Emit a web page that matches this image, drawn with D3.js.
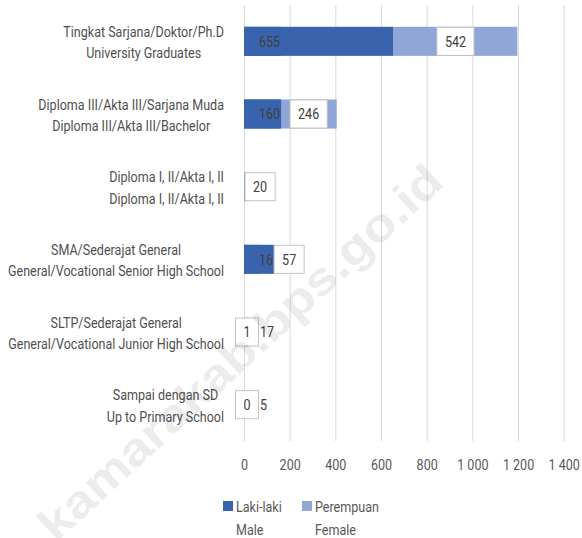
<!DOCTYPE html>
<meta charset="utf-8">
<style>
body { margin: 0; background: #fff; }
svg text { font-family: Roboto, "DejaVu Sans Condensed", sans-serif; }
.grid line { stroke: #d9d9d9; stroke-width: 1; }
.grid text { fill: #595959; font-size: 15px; }
.cat { fill: #505050; font-size: 15px; }
.val { fill: #404040; font-size: 15px; }
.legend text { fill: #595959; font-size: 15px; }
</style>
<body>
<div id="chart"></div>
<script src="https://cdn.jsdelivr.net/npm/d3@7"></script>
<script>
// ---------- data ----------
const categories = [
  ["Tingkat Sarjana/Doktor/Ph.D", "University Graduates"],
  ["Diploma III/Akta III/Sarjana Muda", "Diploma III/Akta III/Bachelor"],
  ["Diploma I, II/Akta I, II", "Diploma I, II/Akta I, II"],
  ["SMA/Sederajat General", "General/Vocational Senior High School"],
  ["SLTP/Sederajat General", "General/Vocational Junior High School"],
  ["Sampai dengan SD", "Up to Primary School"]
];
const male   = [655, 160, 3, 16, 1, 0];
const female = [542, 246, 20, 57, 17, 5];
const maleLabelShown = [true, true, false, true, true, true];
const xTicks = [0, 200, 400, 600, 800, 1000, 1200, 1400];
const seriesNames = [["Laki-laki", "Male"], ["Perempuan", "Female"]];
const colors = ["#3a63ad", "#8fa6d7"];

// ---------- layout ----------
const W = 582, H = 538;
const margin = {top: 5, right: 18, bottom: 97, left: 244};
const width = W - margin.left - margin.right,
      height = H - margin.top - margin.bottom;

const keys = categories.map(c => c.join("|"));
const rows = keys.map((k, i) => ({key: k, male: male[i], female: female[i]}));

const x = d3.scaleLinear().domain([0, 1400]).range([0, width - 0.3]);
const y = d3.scaleBand().domain(keys).range([0, height]).paddingInner(0.6).paddingOuter(0.3);

const svg = d3.select("#chart").append("svg")
    .attr("width", W).attr("height", H);
const g = svg.append("g")
    .attr("transform", "translate(" + margin.left + "," + margin.top + ")");

// the original uses a condensed face; squeeze a regular one horizontally
const probe = svg.append("text").attr("class", "cat").text("General/Vocational Junior High School");
const k = 216 / probe.node().getComputedTextLength();
probe.remove();

function ntext(parent, cls, px, py, str, anchor) {
  const t = parent.append("text")
    .attr("class", cls)
    .attr("transform", "translate(" + px + "," + py + ") scale(" + k + ",1)")
    .attr("text-anchor", anchor || "start")
    .text(str);
  t.w = t.node().getComputedTextLength() * k;
  return t;
}

// grid + x axis labels
const fmt = d3.formatLocale({decimal: ".", thousands: " ", grouping: [3], currency: ["", ""]}).format(",");
const gx = g.append("g")
    .attr("class", "grid")
    .attr("transform", "translate(0," + height + ")")
    .call(d3.axisBottom(x).tickValues(xTicks).tickSize(-height).tickPadding(18).tickFormat(fmt));
gx.select(".domain").remove();
gx.attr("font-family", null).attr("font-size", null);
gx.selectAll("text").attr("transform", "scale(" + k + ",1)");

// stacked bars
const stack = d3.stack().keys(["male", "female"]);
const series = stack(rows);
g.selectAll(".series")
  .data(series)
  .join("g")
    .attr("fill", (d, i) => colors[i])
  .selectAll("rect")
  .data(d => d)
  .join("rect")
    .attr("x", d => x(d[0]))
    .attr("y", d => y(d.data.key))
    .attr("width", d => x(d[1]) - x(d[0]))
    .attr("height", y.bandwidth());

// category labels (two lines, centred, block right-aligned)
const labelRight = -20;
categories.forEach((c, i) => {
  const cy = y(keys[i]) + y.bandwidth() / 2;
  const widths = c.map(s => {
    const t = ntext(g, "cat", 0, 0, s);
    const w = t.w; t.remove(); return w;
  });
  const cx = labelRight - d3.max(widths) / 2;
  c.forEach((s, j) => ntext(g, "cat", cx, cy + (j === 0 ? -4.5 : 17), s, "middle"));
});

// data labels
const bh = y.bandwidth();
rows.forEach((r, i) => {
  const top = y(r.key), cy = top + bh / 2 + 5.3;
  let maleRight = x(0) + 1;
  if (maleLabelShown[i]) {
    const lg = g.append("g");
    if (r.male >= 10) {
      const rect = lg.append("rect").attr("fill", colors[0]);
      const t = ntext(lg, "val", x(0) + 15, cy, r.male);
      rect.attr("x", x(0)).attr("y", top)
        .attr("width", 15 + t.w + 1).attr("height", bh);
      maleRight = x(0) + 15 + t.w + 1;
    } else {
      const rect = lg.append("rect").attr("fill", "#fff").attr("stroke", "#c4c4c4");
      const c = x(0) + 3;
      const t = ntext(lg, "val", c, cy, r.male, "middle");
      const w = t.w + 16;
      rect.attr("x", c - w / 2).attr("y", top + 0.5)
        .attr("width", w).attr("height", bh - 1);
      maleRight = c + w / 2;
    }
  }
  const fg = g.append("g");
  const rect = fg.append("rect");
  const ft = ntext(fg, "val", 0, cy, r.female, "middle");
  const w = ft.w + 16;
  let left = (x(r.male) + x(r.male + r.female)) / 2 - w / 2;
  if (left < maleRight) left = maleRight;
  if (r.female >= 20) {
    rect.attr("x", left).attr("y", top + 0.5)
      .attr("width", w).attr("height", bh - 1)
      .attr("fill", "#fff").attr("stroke", "#c4c4c4");
    ft.attr("transform", "translate(" + (left + w / 2) + "," + cy + ") scale(" + k + ",1)");
  } else {
    rect.remove();
    ft.attr("text-anchor", "start")
      .attr("transform", "translate(" + (left + 1.5) + "," + cy + ") scale(" + k + ",1)");
  }
});

// legend
const legend = svg.append("g").attr("class", "legend");
const legendX = [223, 302];
seriesNames.forEach((n, i) => {
  legend.append("rect")
    .attr("x", legendX[i]).attr("y", 501)
    .attr("width", 10).attr("height", 10)
    .attr("fill", colors[i]);
  ntext(legend, "", legendX[i] + 13, 511.5, n[0]);
  ntext(legend, "", legendX[i] + 13, 535, n[1]);
});

// watermark
svg.append("text")
  .attr("transform", "translate(240,352) rotate(-42.6)")
  .attr("text-anchor", "middle")
  .attr("dy", "0.35em")
  .attr("textLength", 530)
  .attr("lengthAdjust", "spacingAndGlyphs")
  .style("font-family", "'Liberation Sans', sans-serif")
  .style("font-weight", "bold")
  .style("font-size", "46px")
  .style("fill", "#000")
  .style("opacity", 0.07)
  .text("kamarakab.bps.go.id");
</script>
</body>
